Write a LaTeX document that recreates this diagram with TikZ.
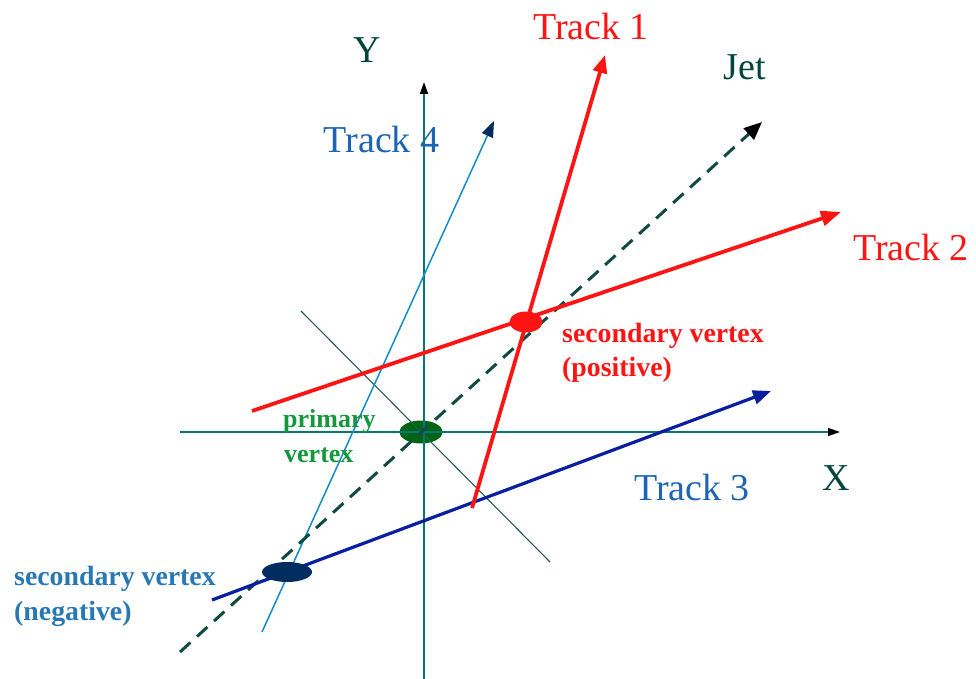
\documentclass[tikz,border=0pt]{standalone}
\usepackage{fontspec}
\setmainfont{Liberation Serif}
\usetikzlibrary{arrows.meta,shapes.geometric}
\definecolor{axisc}{RGB}{0,120,120}
\definecolor{jetc}{RGB}{15,75,65}
\definecolor{perpc}{RGB}{40,90,90}
\definecolor{redc}{RGB}{255,20,20}
\definecolor{tthree}{RGB}{10,30,160}
\definecolor{tfour}{RGB}{20,140,200}
\definecolor{tfourtext}{RGB}{30,100,180}
\definecolor{negtext}{RGB}{40,120,180}
\definecolor{greentext}{RGB}{20,150,60}
\definecolor{greenv}{RGB}{0,100,20}
\definecolor{navyv}{RGB}{0,45,95}
\definecolor{darklab}{RGB}{0,70,60}
\begin{document}
\begin{tikzpicture}[x=1pt,y=-1pt,
  biglab/.style={font=\fontsize{38}{40}\selectfont, inner sep=0pt, anchor=base},
  boldlab/.style={font=\fontsize{26}{30}\selectfont\bfseries, inner sep=0pt, anchor=base west},
  secbold/.style={font=\fontsize{27.8}{30}\selectfont\bfseries, inner sep=0pt, anchor=base west},
  vtx/.style={ellipse, inner sep=0pt, draw=none},
  axisline/.style={draw=axisc, line width=1.4pt, -{Triangle[length=12pt,width=8pt,fill=black,color=black]}},
]
\useasboundingbox (0,0) rectangle (976,679);
% coordinates
\coordinate (xs) at (180,432);
\coordinate (xe) at (840,432);
\coordinate (ys) at (424,679);
\coordinate (ye) at (424,82);
\coordinate (js) at (180,652);
\coordinate (je) at (762,122);
\coordinate (ps) at (301,311);
\coordinate (pe) at (550,562);
\coordinate (t1s) at (472,508);
\coordinate (t1e) at (605,55);
\coordinate (t2s) at (252,411);
\coordinate (t2e) at (841,212);
\coordinate (t3s) at (212,600);
\coordinate (t3e) at (771,391);
\coordinate (t4s) at (262,632);
\coordinate (t4e) at (494,121);
% primary vertex (below lines)
\node[vtx, fill=greenv, minimum width=43pt, minimum height=23pt] (pv) at (421,432) {};
% axes
\draw[axisline] (xs) -- (xe);
\draw[axisline] (ys) -- (ye);
% perpendicular line
\draw[perpc, line width=1.1pt] (ps) -- (pe);
% track 4
\draw[tfour, line width=1.5pt, -{Triangle[length=16pt,width=12pt,color=navyv]}] (t4s) -- (t4e);
% jet
\draw[jetc, line width=3pt, dash pattern=on 14pt off 9pt, -{Triangle[length=18pt,width=15pt,color=black]}] (js) -- (je);
% track 3
\draw[tthree, line width=3.2pt, -{Triangle[length=18pt,width=14pt]}] (t3s) -- (t3e);
% tracks 1 and 2
\draw[redc, line width=3.8pt, -{Triangle[length=18pt,width=14pt]}] (t1s) -- (t1e);
\draw[redc, line width=3.8pt, -{Triangle[length=20pt,width=15pt]}] (t2s) -- (t2e);
% secondary vertices
\node[vtx, fill=redc, minimum width=33pt, minimum height=21pt] (svp) at (526,322) {};
\node[vtx, fill=navyv, minimum width=50pt, minimum height=20pt] (svn) at (287,572) {};
% labels
\node[biglab, darklab] (ylab) at (367,63) {Y};
\node[biglab, darklab] (xlab) at (836,490) {X};
\node[biglab, darklab] (jetlab) at (745,80) {Jet};
\node[biglab, redc] (t1lab) at (591,40) {Track 1};
\node[biglab, redc] (t2lab) at (911,260) {Track 2};
\node[biglab, tfourtext] (t3lab) at (692,500) {Track 3};
\node[biglab, tfourtext] (t4lab) at (381.5,153) {Track 4};
\draw[axisc, line width=1.4pt] (424,160) -- (424,120);
\node[secbold, redc] (svpl1) at (562,342) {secondary vertex};
\node[secbold, redc] (svpl2) at (562,376) {(positive)};
\node[boldlab, greentext] (pvl1) at (283,427) {primary};
\node[boldlab, greentext] (pvl2) at (284,462) {vertex};
\node[secbold, negtext] (svnl1) at (14,585) {secondary vertex};
\node[secbold, negtext] (svnl2) at (14,620) {(negative)};
\end{tikzpicture}
\end{document}
